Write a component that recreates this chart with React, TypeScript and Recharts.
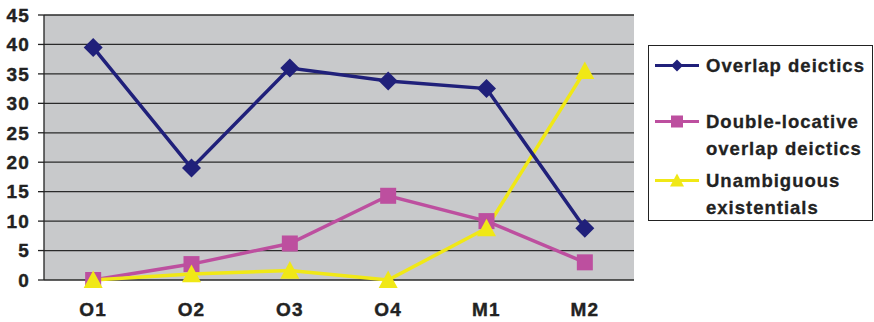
import React from "react";
import {
  LineChart,
  Line,
  XAxis,
  YAxis,
  CartesianGrid,
  ReferenceLine,
} from "recharts";

const categories = ["O1", "O2", "O3", "O4", "M1", "M2"];
const overlapDeictics = [39.5, 19, 36, 33.8, 32.5, 8.8];
const doubleLocative = [0, 2.7, 6.2, 14.3, 10, 3];
const unambiguous = [0, 1, 1.6, 0, 8.8, 35.5];
const yTicks = [0, 5, 10, 15, 20, 25, 30, 35, 40, 45];
const boundaryTicks = [0, 1, 2, 3, 4, 5, 6];

const data = categories.map((cat, i) => ({
  cat,
  overlap: overlapDeictics[i],
  double: doubleLocative[i],
  unamb: unambiguous[i],
}));

const NAVY = "#20207a";
const PINK = "#bd4f9f";
const YELLOW = "#f0e816";
const FONT = "'Liberation Sans', Arial, sans-serif";

type DotProps = { cx?: number; cy?: number; index?: number };

const Diamond = ({ cx = 0, cy = 0, r = 9.5, color = NAVY }: DotProps & { r?: number; color?: string }) => (
  <path d={`M${cx},${cy - r} L${cx + r},${cy} L${cx},${cy + r} L${cx - r},${cy} Z`} fill={color} />
);
const Square = ({ cx = 0, cy = 0, r = 8, color = PINK }: DotProps & { r?: number; color?: string }) => (
  <rect x={cx - r} y={cy - r} width={r * 2} height={r * 2} fill={color} />
);
const Triangle = ({ cx = 0, cy = 0, r = 9.5, color = YELLOW }: DotProps & { r?: number; color?: string }) => (
  <path d={`M${cx},${cy - r} L${cx + r},${cy + r * 0.85} L${cx - r},${cy + r * 0.85} Z`} fill={color} />
);

const tickStyle = {
  fontSize: 19,
  fontWeight: "bold",
  fill: "#222",
  stroke: "#222",
  strokeWidth: 0.4,
  fontFamily: FONT,
  letterSpacing: 1.2,
};

const legendItems = [
  { top: 6, lines: ["Overlap deictics"], color: NAVY, Mark: Diamond, r: 6 },
  { top: 62, lines: ["Double-locative", "overlap deictics"], color: PINK, Mark: Square, r: 6 },
  { top: 121, lines: ["Unambiguous", "existentials"], color: YELLOW, Mark: Triangle, r: 7 },
];

// legend box sits to the right of the plot, like the original spreadsheet chart
const LegendBox = () => (
  <div
    style={{
      position: "absolute",
      left: 648,
      top: 45,
      width: 225,
      height: 176,
      border: "1.5px solid #222",
      background: "#fff",
      boxSizing: "border-box",
      fontFamily: FONT,
      fontWeight: "bold",
      fontSize: 18.5,
      letterSpacing: 1,
      color: "#222",
      WebkitTextStroke: "0.3px #222",
    }}
  >
    {legendItems.map((item) => (
      <div key={item.lines[0]} style={{ position: "absolute", left: 5, top: item.top }}>
        <svg width={46} height={27} style={{ position: "absolute", left: 0, top: 0 }}>
          <line x1={1} y1={13.5} x2={45} y2={13.5} stroke={item.color} strokeWidth={3} />
          <item.Mark cx={23} cy={13.5} r={item.r} color={item.color} />
        </svg>
        <div style={{ position: "absolute", left: 52, top: 0, lineHeight: "27px", whiteSpace: "nowrap" }}>
          {item.lines.map((l) => (
            <div key={l}>{l}</div>
          ))}
        </div>
      </div>
    ))}
  </div>
);

export default function App() {
  return (
    <div style={{ position: "absolute", left: 0, top: 0, width: 874, height: 322, background: "#fff" }}>
      <LineChart
        width={874}
        height={322}
        data={data}
        margin={{ top: 15, right: 240, bottom: 0, left: 0 }}
      >
        <CartesianGrid
          vertical={false}
          stroke="#2a2a2a"
          strokeWidth={1.3}
          fill="#c8c9cb"
          fillOpacity={1}
        />
        <XAxis
          xAxisId="b"
          type="number"
          domain={[0, 6]}
          ticks={boundaryTicks}
          height={0}
          tickSize={6}
          tick={() => <g />}
          stroke="#222"
          strokeWidth={1.3}
        />
        <XAxis
          dataKey="cat"
          scale="band"
          height={42}
          axisLine={false}
          tickLine={false}
          tickSize={0}
          tickMargin={23}
          tick={tickStyle}
        />
        <YAxis
          domain={[0, 45]}
          ticks={yTicks}
          width={44}
          tickSize={6}
          tickMargin={8}
          stroke="#222"
          strokeWidth={1.3}
          interval={0}
          tick={tickStyle}
        />
        <ReferenceLine xAxisId="b" x={6} stroke="#8a8a8a" strokeWidth={1.5} />
        <Line
          dataKey="double"
          name="Double-locative overlap deictics"
          stroke={PINK}
          strokeWidth={3.5}
          dot={(p: DotProps) => <Square key={`s${p.index}`} cx={p.cx} cy={p.cy} />}
          isAnimationActive={false}
        />
        <Line
          dataKey="unamb"
          name="Unambiguous existentials"
          stroke={YELLOW}
          strokeWidth={3.5}
          dot={(p: DotProps) => <Triangle key={`t${p.index}`} cx={p.cx} cy={p.cy} />}
          isAnimationActive={false}
        />
        <Line
          dataKey="overlap"
          name="Overlap deictics"
          stroke={NAVY}
          strokeWidth={3.5}
          dot={(p: DotProps) => <Diamond key={`d${p.index}`} cx={p.cx} cy={p.cy} />}
          isAnimationActive={false}
        />
      </LineChart>
      <LegendBox />
    </div>
  );
}
